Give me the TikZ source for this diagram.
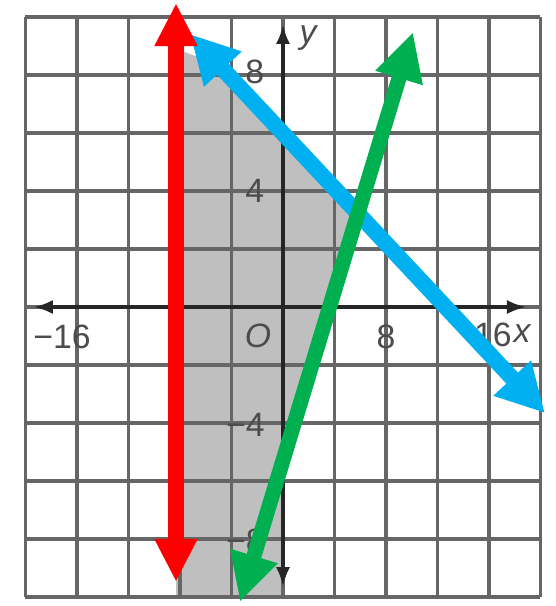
\documentclass[tikz,border=0pt]{standalone}
\usepackage{fontspec}
\setsansfont{Liberation Sans}
\usetikzlibrary{arrows.meta}

\definecolor{lineRed}{RGB}{255,0,0}
\definecolor{lineBlue}{RGB}{0,176,240}
\definecolor{lineGreen}{RGB}{0,176,80}

\begin{document}
\begin{tikzpicture}[
  x=0.321875cm, y=0.725cm,
  font=\sffamily\fontsize{24}{28}\selectfont,
  gridline/.style={line width=2.4pt, draw=black!60},
  axis/.style={line width=3pt, draw=black!85, arrows={Latex[length=5mm, width=3.5mm]-Latex[length=5mm, width=3.5mm]}},
  tick/.style={text=black!70, inner sep=0pt},
  region/.style={fill=black!25},
  redarrow/.style={line width=3.75mm, draw=lineRed, arrows={Triangle[length=10.75mm, width=10mm]-Triangle[length=10.75mm, width=10mm]}},
  bluearrow/.style={line width=4mm, draw=lineBlue, arrows={Triangle[length=12mm, width=12mm]-Triangle[length=12mm, width=12mm]}},
  greenarrow/.style={line width=3.75mm, draw=lineGreen, arrows={Triangle[length=12mm, width=11.5mm]-Triangle[length=12mm, width=11.5mm]}}
]

\useasboundingbox[fill=white] (-21.98,-10.31) rectangle (21.13,10.586);

% shaded solution region
\fill[region] (-8.31,8.9) -- (-5,8.36) -- (5.82,3.23) -- (0,-5.29) -- (0,-10) -- (-8.31,-10) -- cycle;

% grid
\foreach \gx in {-20,-16,...,20}
  \draw[gridline] (\gx,-10) -- (\gx,10);
\foreach \gy in {-10,-8,...,10}
  \draw[gridline] (-20,\gy) -- (20,\gy);

% axes
\coordinate (xleft) at (-19.42,0);
\coordinate (xright) at (18.95,0);
\coordinate (ybot) at (0,-9.66);
\coordinate (ytop) at (0,9.76);
\draw[axis] (xleft) -- (xright);
\draw[axis] (ybot) -- (ytop);

% labels
\node[tick] (xm16) at (-17.17,-1.03) {−16};
\node[tick] (orig) at (-1.94,-1.0) {\itshape O};
\node[tick] (xp8) at (8.0,-1.03) {8};
\node[tick] (xp16) at (16.3,-0.97) {16};
\node[tick] (xlab) at (18.56,-0.93) {\itshape x};
\node[tick] (ylab) at (1.94,9.28) {\itshape y};
\node[tick, anchor=east] (yp8) at (-1.45,8.1) {8};
\node[tick, anchor=east] (yp4) at (-1.45,4.0) {4};
\node[tick, anchor=east] (ym4) at (-1.40,-4.07) {−4};
\node[tick, anchor=east] (ym8) at (-1.40,-8.07) {−8};

% the three boundary lines
\coordinate (redtop) at (-8.31,10.48);
\coordinate (redbot) at (-8.31,-9.48);
\coordinate (bluetop) at (-7.22,9.41);
\coordinate (bluebot) at (20.35,-3.66);
\coordinate (greentop) at (10.10,9.48);
\coordinate (greenbot) at (-3.34,-10.17);

\draw[bluearrow] (bluetop) -- (bluebot);
\draw[redarrow] (redbot) -- (redtop);
\draw[greenarrow] (greenbot) -- (greentop);

\end{tikzpicture}
\end{document}
